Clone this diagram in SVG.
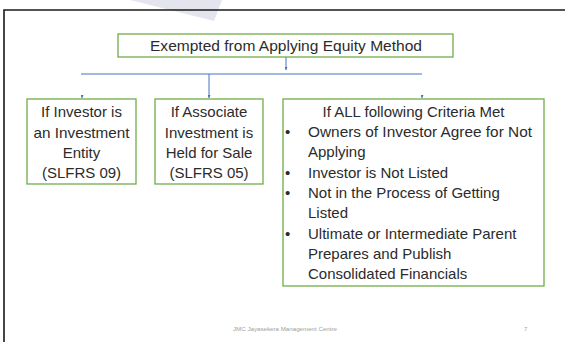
<svg xmlns="http://www.w3.org/2000/svg" width="565" height="342" viewBox="0 0 565 342">
<style>
.box{fill:#fff;stroke:#70ad47;stroke-width:1.3}
.t{font-family:"Liberation Sans",Arial,sans-serif;font-size:15px;fill:#2b2b2b}
.c{text-anchor:middle}
.ln{stroke:#4472c4;stroke-width:1;fill:none}
.ft{font-family:"Liberation Sans",Arial,sans-serif;font-size:6px;fill:#a0a0a0}
</style>
<defs>
<marker id="ah" viewBox="0 0 6 6" refX="6" refY="3" markerWidth="3" markerHeight="3" orient="auto" markerUnits="userSpaceOnUse">
<path d="M0,0 L6,3 L0,6 z" fill="#4472c4"/>
</marker>
</defs>
<rect width="565" height="342" fill="#fff"/>
<polygon points="130,0 222,0 214,21" fill="#e4e4ee"/>
<path d="M4,342 V10 H565" fill="none" stroke="#1a1a1a" stroke-width="1.6"/>
<g id="connectors">
<line class="ln" x1="286" y1="57" x2="286" y2="70" marker-end="url(#ah)"/>
<line class="ln" x1="81" y1="74" x2="422" y2="74"/>
<line class="ln" x1="209" y1="74" x2="209" y2="98" marker-end="url(#ah)"/>
<line class="ln" x1="82" y1="95" x2="82" y2="98" marker-end="url(#ah)"/>
<line class="ln" x1="422" y1="95" x2="422" y2="98" marker-end="url(#ah)"/>
</g>
<g id="root">
<rect class="box" x="118" y="34" width="335" height="23"/>
<text class="t c" x="286" y="51" font-size="14.5" textLength="272" lengthAdjust="spacingAndGlyphs">Exempted from Applying Equity Method</text>
</g>
<g id="investment-entity">
<rect class="box" x="27" y="99" width="109" height="85"/>
<text class="t c" x="81.5" y="117">If Investor is</text>
<text class="t c" x="81.5" y="138" textLength="96" lengthAdjust="spacingAndGlyphs">an Investment</text>
<text class="t c" x="81.5" y="158">Entity</text>
<text class="t c" x="81.5" y="178">(SLFRS 09)</text>
</g>
<g id="held-for-sale">
<rect class="box" x="155" y="99" width="108" height="85"/>
<text class="t c" x="209" y="117">If Associate</text>
<text class="t c" x="209" y="138">Investment is</text>
<text class="t c" x="209" y="158">Held for Sale</text>
<text class="t c" x="209" y="178">(SLFRS 05)</text>
</g>
<g id="all-criteria">
<rect class="box" x="283" y="99" width="261" height="187"/>
<text class="t c" x="413.5" y="117">If ALL following Criteria Met</text>
<g class="t">
<text x="285" y="137">•</text>
<text x="308" y="137" textLength="224" lengthAdjust="spacingAndGlyphs">Owners of Investor Agree for Not</text>
<text x="308" y="157">Applying</text>
<text x="285" y="178">•</text>
<text x="308" y="178">Investor is Not Listed</text>
<text x="285" y="198">•</text>
<text x="308" y="198">Not in the Process of Getting</text>
<text x="308" y="218">Listed</text>
<text x="285" y="239">•</text>
<text x="308" y="239">Ultimate or Intermediate Parent</text>
<text x="308" y="259">Prepares and Publish</text>
<text x="308" y="279">Consolidated Financials</text>
</g>
</g>
<text class="ft" x="233" y="331" textLength="104" lengthAdjust="spacingAndGlyphs">JMC Jayasekera Management Centre</text>
<text class="ft" x="524" y="331">7</text>
</svg>
